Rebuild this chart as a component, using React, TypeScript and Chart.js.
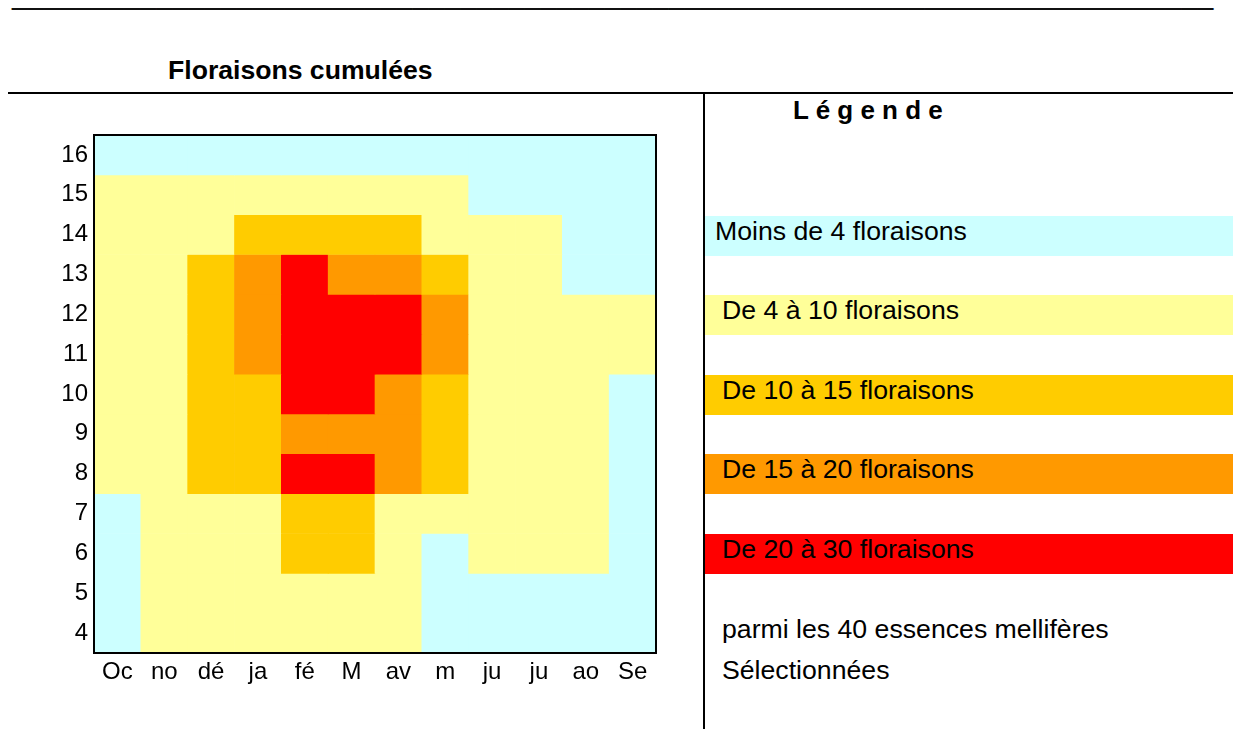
import React, { useEffect, useRef } from "react";
import { Chart, registerables } from "chart.js";

Chart.register(...registerables);

// ---- Data ----
const months = ["Oc", "no", "dé", "ja", "fé", "M", "av", "m", "ju", "ju", "ao", "Se"];
const rowValues = [16, 15, 14, 13, 12, 11, 10, 9, 8, 7, 6, 5, 4];

// estimated number of cumulated floraisons per cell (row value x month)
const row16 = [2, 2, 2, 2, 2, 2, 2, 2, 2, 2, 2, 2];
const row15 = [7, 7, 7, 7, 7, 7, 7, 7, 2, 2, 2, 2];
const row14 = [7, 7, 7, 12, 12, 12, 12, 7, 7, 7, 2, 2];
const row13 = [7, 7, 12, 17, 25, 17, 17, 12, 7, 7, 2, 2];
const row12 = [7, 7, 12, 17, 25, 25, 25, 17, 7, 7, 7, 7];
const row11 = [7, 7, 12, 17, 25, 25, 25, 17, 7, 7, 7, 7];
const row10 = [7, 7, 12, 12, 25, 25, 17, 12, 7, 7, 7, 2];
const row9 = [7, 7, 12, 12, 17, 17, 17, 12, 7, 7, 7, 2];
const row8 = [7, 7, 12, 12, 25, 25, 17, 12, 7, 7, 7, 2];
const row7 = [2, 7, 7, 7, 12, 12, 7, 7, 7, 7, 7, 2];
const row6 = [2, 7, 7, 7, 12, 12, 7, 2, 7, 7, 7, 2];
const row5 = [2, 7, 7, 7, 7, 7, 7, 2, 2, 2, 2, 2];
const row4 = [2, 7, 7, 7, 7, 7, 7, 2, 2, 2, 2, 2];

const classLimits = [4, 10, 15, 20, 30];
const classColors = ["#CCFFFF", "#FFFF99", "#FFCC00", "#FF9900", "#FF0000"];
const classLabels = [
  "Moins de 4 floraisons",
  "De 4 à 10 floraisons",
  "De 10 à 15 floraisons",
  "De 15 à 20 floraisons",
  "De 20 à 30 floraisons",
];

const FONT = "'Liberation Sans', Arial, Helvetica, sans-serif";

function colorFor(v: number): string {
  for (let i = 0; i < classLimits.length; i++) {
    if (v < classLimits[i]) return classColors[i];
  }
  return classColors[classColors.length - 1];
}

const rows = [row16, row15, row14, row13, row12, row11, row10, row9, row8, row7, row6, row5, row4];

const boxPlugin = {
  id: "boxPlugin",
  afterDatasetsDraw(chart: any) {
    const { ctx, chartArea } = chart;
    ctx.save();
    ctx.strokeStyle = "#000";
    ctx.lineWidth = 2;
    ctx.strokeRect(chartArea.left, chartArea.top, chartArea.right - chartArea.left, chartArea.bottom - chartArea.top);
    ctx.restore();
  },
};

function HeatChart() {
  const ref = useRef<HTMLCanvasElement | null>(null);
  useEffect(() => {
    if (!ref.current) return;
    const datasets = rowValues.map((r, i) => ({
      label: String(r),
      data: months.map(() => [r - 0.5, r + 0.5]),
      backgroundColor: rows[i].map(colorFor),
      borderWidth: 0,
      grouped: false,
      barPercentage: 1,
      categoryPercentage: 1,
    }));
    const chart = new Chart(ref.current, {
      type: "bar",
      data: { labels: months, datasets: datasets as any },
      options: {
        animation: false,
        responsive: true,
        maintainAspectRatio: false,
        events: [],
        layout: { padding: { top: 35, right: 44, bottom: 0, left: 0 } },
        plugins: { legend: { display: false }, tooltip: { enabled: false }, title: { display: false } },
        scales: {
          x: {
            type: "category",
            offset: true,
            grid: { display: false, drawTicks: false },
            border: { display: false },
            ticks: { color: "#000", font: { family: FONT, size: 24 }, padding: 5, maxRotation: 0, autoSkip: false },
            afterFit: (scale: any) => {
              scale.height = 50;
            },
          },
          y: {
            type: "linear",
            min: 3.5,
            max: 16.5,
            grid: { display: false, drawTicks: false },
            border: { display: false },
            ticks: { color: "#000", font: { family: FONT, size: 24 }, padding: 6 },
            afterBuildTicks: (scale: any) => {
              scale.ticks = [...rowValues].reverse().map((v) => ({ value: v }));
            },
            afterFit: (scale: any) => {
              scale.width = 94;
            },
          },
        },
      },
      plugins: [boxPlugin],
    } as any);
    return () => chart.destroy();
  }, []);
  return (
    <div style={{ position: "absolute", left: 0, top: 100, width: 700, height: 603 }}>
      <canvas ref={ref} />
    </div>
  );
}

const bandTops = [216, 295, 375, 454, 534];
const bandTextX = [715, 722, 722, 722, 722];

export default function App() {
  const txt: React.CSSProperties = {
    position: "absolute",
    fontFamily: FONT,
    color: "#000",
    lineHeight: 1,
    whiteSpace: "nowrap",
  };
  return (
    <div
      style={{
        position: "absolute",
        left: 0,
        top: 0,
        width: 1233,
        height: 729,
        overflow: "hidden",
        background: "#fff",
      }}
    >
      <div style={{ ...txt, left: 12, top: -20.3, fontSize: 28.8, color: "#111" }}>
        {"_".repeat(75)}
      </div>
      <div style={{ ...txt, left: 168, top: 56.5, fontSize: 26.6, fontWeight: "bold" }}>Floraisons cumulées</div>
      <div style={{ position: "absolute", left: 8, top: 92, width: 1225, height: 2, background: "#000" }} />
      <div style={{ position: "absolute", left: 703, top: 93, width: 2, height: 636, background: "#000" }} />
      <div style={{ ...txt, left: 793, top: 97.3, fontSize: 26, fontWeight: "bold" }}>L é g e n d e</div>
      {classLabels.map((lab, i) => (
        <React.Fragment key={lab}>
          <div
            style={{
              position: "absolute",
              left: 705,
              top: bandTops[i],
              width: 528,
              height: 40,
              background: classColors[i],
            }}
          />
          <div style={{ ...txt, left: bandTextX[i], top: bandTops[i] + 2.2, fontSize: 26.67 }}>{lab}</div>
        </React.Fragment>
      ))}
      <div style={{ ...txt, left: 722, top: 615.7, fontSize: 26.67 }}>parmi les 40 essences mellifères</div>
      <div style={{ ...txt, left: 722, top: 656.7, fontSize: 26.67 }}>Sélectionnées</div>
      <HeatChart />
    </div>
  );
}
